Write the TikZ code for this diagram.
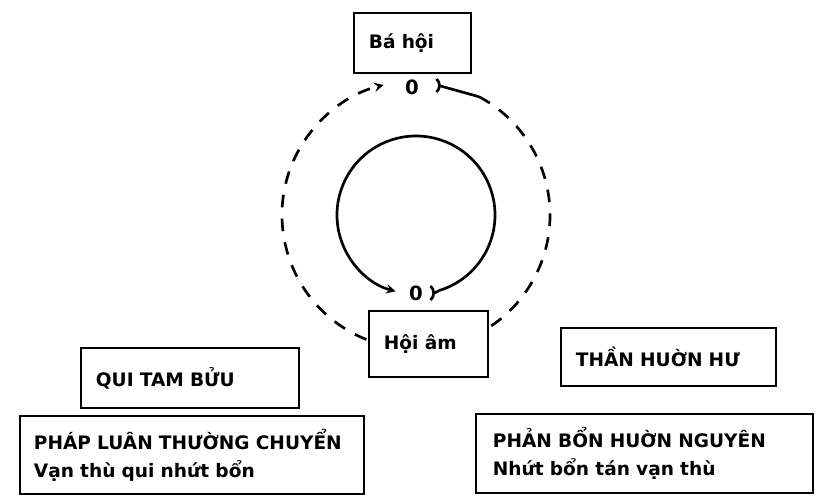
\documentclass[tikz,border=0pt]{standalone}
\usepackage{fontspec}
\setmainfont{DejaVu Sans}
\usepackage{tikz}
\usetikzlibrary{calc,arrows}

\tikzset{
    txtbox/.style={draw, fill=white, line width=1.3pt, anchor=north west, align=left,
        inner xsep=0.375cm, inner ysep=0pt, font=\bfseries\fontsize{13.2}{20}\selectfont},
    zero/.style={inner sep=1pt, font=\bfseries\fontsize{14}{14}\selectfont},
    flow/.style={line width=1.9pt, >=stealth},
    flowdash/.style={flow, dash pattern=on 9pt off 8pt},
}

\begin{document}
\begin{tikzpicture}[x=0.025cm, y=0.025cm]
            \useasboundingbox (0,0) rectangle (818,496);
            \coordinate (mid) at (416,281);
            % the two turning points
            \node[zero] at (412,409) (zeroTop) {0};
            \node[zero] at (416,203) (zeroBot) {0};
            % outer (dashed) and inner (solid) turn
            \draw[flowdash, ->] ($(mid)+(62:134)$) arc[start angle=62, end angle=-256, radius=134];
            \draw[flow, ->] ($(mid)+(-73:79)$) arc[start angle=-73, end angle=255, radius=79];
            % small hooks after each 0
            \draw[flow] ($(zeroTop.east)+(16,8)$) to[bend left=50] ++(0,-13);
            \draw[flow] ($(zeroTop.east)+(20,1)$) -- ($(mid)+(62:134)$);
            \draw[flow] ($(zeroBot.east)+(6,7)$) to[bend left=50] ++(0,-14);
            \draw[flow] ($(zeroBot.east)+(10,0)$) -- ($(mid)+(-73:79)$);
            % boxes
            \node[txtbox, text width=2.175cm, minimum height=1.5cm] at (353,484) (bahoi) {Bá hội};
            \node[txtbox, text width=2.225cm, minimum height=1.65cm] at (368,186) (hoiam) {Hội âm};
            \node[txtbox, text width=4.7cm, minimum height=1.5cm] at (80,149) (quitam) {QUI TAM BỬU};
            \node[txtbox, text width=4.625cm, minimum height=1.45cm] at (560,169) (thanhuon) {THẦN HUỜN HƯ};
            \node[txtbox, text width=7.9cm, minimum height=1.95cm, inner xsep=0.35cm] at (19,81) (phapluan) {PHÁP LUÂN THƯỜNG CHUYỂN\\Vạn thù qui nhứt bổn};
            \node[txtbox, text width=7.575cm, minimum height=1.975cm, inner xsep=0.425cm] at (475,83) (phanbon) {PHẢN BỔN HUỜN NGUYÊN\\Nhứt bổn tán vạn thù};
        \end{tikzpicture}
\end{document}
